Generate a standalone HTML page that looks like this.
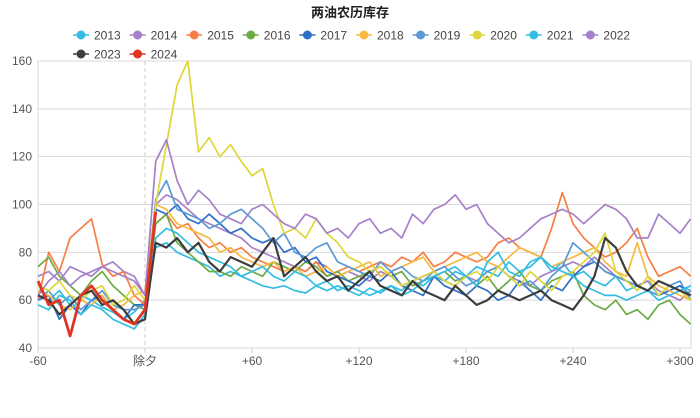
<!DOCTYPE html>
<html><head><meta charset="utf-8"><style>
body{margin:0;background:#fff;font-family:"Liberation Sans","Noto Sans CJK SC",sans-serif;}
svg{display:block}
</style></head><body>
<svg id="c" width="700" height="418" xmlns="http://www.w3.org/2000/svg">
<text x="350" y="17" text-anchor="middle" font-size="13" font-weight="bold" fill="#222">两油农历库存</text>
<g id="grid"></g><g id="lines"></g><g id="legend"></g>
</svg>
<script>
const years=["2013","2014","2015","2016","2017","2018","2019","2020","2021","2022","2023","2024"];
const colors=["#34bde3","#a681c9","#f77e45","#6bab43","#2f6fc6","#f7b940","#5b9ad6","#dfd63a","#34bde3","#a681c9","#3d3d3d","#e03524"];
const xTicks=[-60,0,60,120,180,240,300];
const xTickLabels=["-60","除夕","+60","+120","+180","+240","+300"];
const yTicks=[40,60,80,100,120,140,160];
const dayStart=-60, dayStep=6;
const s2013=[62,60,64,58,62,60,57,55,52,55,60,82,84,80,78,76,74,70,72,70,68,66,65,66,64,63,66,64,66,64,62,65,63,66,64,68,66,70,68,72,70,74,72,70,76,72,74,78,72,76,70,72,68,66,70,64,66,68,62,64,66,64];
const s2014=[70,72,68,74,72,70,74,76,72,70,62,100,104,102,98,94,92,90,88,86,82,80,78,76,74,72,76,74,70,72,70,68,72,70,66,68,70,72,68,66,70,68,72,74,70,68,66,70,72,74,76,74,78,74,70,68,66,68,64,62,60,64];
const s2015=[60,80,72,86,90,94,75,70,72,62,58,92,96,90,92,86,82,84,80,82,78,76,74,72,74,72,76,70,72,74,72,74,76,74,78,76,80,74,76,80,78,76,78,84,86,82,80,78,90,105,92,86,82,78,80,84,90,78,70,72,74,70];
const s2016=[74,78,70,66,62,68,72,66,62,58,56,92,96,84,80,76,72,72,70,74,72,70,76,74,72,76,74,70,72,68,70,72,74,70,72,66,68,70,72,68,70,66,70,64,68,72,66,64,68,70,72,62,58,56,60,54,56,52,58,60,54,50];
const s2017=[60,62,52,58,54,60,62,56,52,58,58,98,96,100,94,92,96,92,88,90,86,84,86,80,82,76,78,72,70,68,66,70,68,72,66,64,62,70,66,64,62,66,64,60,62,68,64,60,66,64,70,74,76,72,70,68,66,64,62,64,66,62];
const s2018=[64,62,58,56,60,58,62,56,58,62,64,100,98,92,90,88,86,80,82,78,76,74,76,72,74,70,72,74,70,72,74,76,70,72,74,76,78,72,74,76,78,80,76,74,78,82,80,78,74,76,78,80,82,76,72,70,84,70,66,64,62,60];
const s2019=[60,64,58,62,56,60,64,58,56,56,58,102,110,98,96,94,90,92,96,98,94,90,84,88,80,78,82,84,76,74,72,70,76,72,74,70,68,72,74,70,66,68,72,74,70,66,68,64,70,74,84,80,76,72,70,68,66,64,62,66,68,60];
const s2020=[66,64,68,62,60,64,66,58,60,66,60,100,125,150,160,122,128,120,125,118,112,115,100,88,90,86,94,88,84,78,76,72,74,70,66,68,70,72,68,66,70,72,68,74,70,66,72,68,64,70,72,76,80,88,72,68,64,70,62,66,64,60];
const s2021=[58,56,62,60,54,58,56,52,50,48,54,86,90,88,84,80,78,76,74,70,72,74,70,68,72,70,66,68,64,66,64,62,64,66,62,64,68,70,72,74,70,66,76,80,72,70,76,78,74,72,70,66,64,62,62,60,62,64,60,62,64,66];
const s2022=[62,68,72,66,70,72,74,72,70,68,62,118,127,110,100,106,102,96,94,92,98,100,96,92,90,96,94,88,90,86,92,94,88,90,86,96,92,98,100,104,98,100,92,88,84,86,90,94,96,98,96,92,96,100,98,94,86,86,96,92,88,94];
const s2023=[62,60,54,58,62,64,58,60,56,50,52,84,82,86,80,84,76,72,78,76,74,80,86,70,74,78,72,68,70,64,68,72,66,64,62,68,64,62,60,66,62,58,60,64,62,60,62,64,60,58,56,62,70,86,82,72,66,64,68,66,64,62];
const s2024=[68,58,60,45,62,66,60,56,52,50,56,97];
const series=[s2013,s2014,s2015,s2016,s2017,s2018,s2019,s2020,s2021,s2022,s2023,s2024];

const L=38,R=691,T=61,B=348;
const xS=d=>L+(d+60)*(680-38)/360;
const yS=v=>B-(v-40)*(B-T)/120;
const NS="http://www.w3.org/2000/svg";
function mk(tag,attrs,parent){const e=document.createElementNS(NS,tag);for(const k in attrs)e.setAttribute(k,attrs[k]);parent.appendChild(e);return e;}
const grid=document.getElementById('grid');
yTicks.forEach(v=>{
  const ln=mk('line',{x1:L,x2:R,y1:yS(v),y2:yS(v),stroke:'#d9d9d9','stroke-width':1},grid);
  
  
  const t=mk('text',{x:L-6,y:yS(v)+4,'text-anchor':'end','font-size':12,fill:'#555'},grid);
  t.textContent=v;
  
  
});
const frame=mk('rect',{x:L,y:T,width:R-L,height:B-T,fill:'none',stroke:'#d9d9d9'},grid);


const dl=mk('line',{x1:xS(0),x2:xS(0),y1:T,y2:B,stroke:'#ccc','stroke-dasharray':'4,3'},grid);


xTicks.forEach((d,i)=>{
  const tk=mk('line',{x1:xS(d),x2:xS(d),y1:B,y2:B+5,stroke:'#ccc'},grid);
  
  
  const t=mk('text',{x:xS(d),y:B+17,'text-anchor':'middle','font-size':12,fill:'#555'},grid);
  t.textContent=xTickLabels[i];
  
  
});
const lines=document.getElementById('lines');
series.forEach((s,i)=>{
  const pts=s.map((v,j)=>xS(dayStart+j*dayStep).toFixed(1)+','+yS(v).toFixed(1)).join(' ');
  const w=i==11?2.8:(i==10?2.2:1.7);
  const p=mk('polyline',{points:pts,fill:'none',stroke:colors[i],'stroke-width':w,'stroke-linejoin':'round'},lines);
  
  
});
const lg=document.getElementById('legend');
years.forEach((y,i)=>{
  const row=i<10?0:1, col=i<10?i:i-10;
  const cx=81+col*56.6, cy=row?54:35;
  const g=mk('g',{},lg);
  
  
  mk('line',{x1:cx-8,x2:cx+8,y1:cy,y2:cy,stroke:colors[i],'stroke-width':1.5},g);
  mk('circle',{cx:cx,cy:cy,r:4.5,fill:colors[i]},g);
  const t=mk('text',{x:cx+13,y:cy+4.5,'font-size':12,fill:'#444'},g);
  t.textContent=y;
});
</script>
</body></html>
